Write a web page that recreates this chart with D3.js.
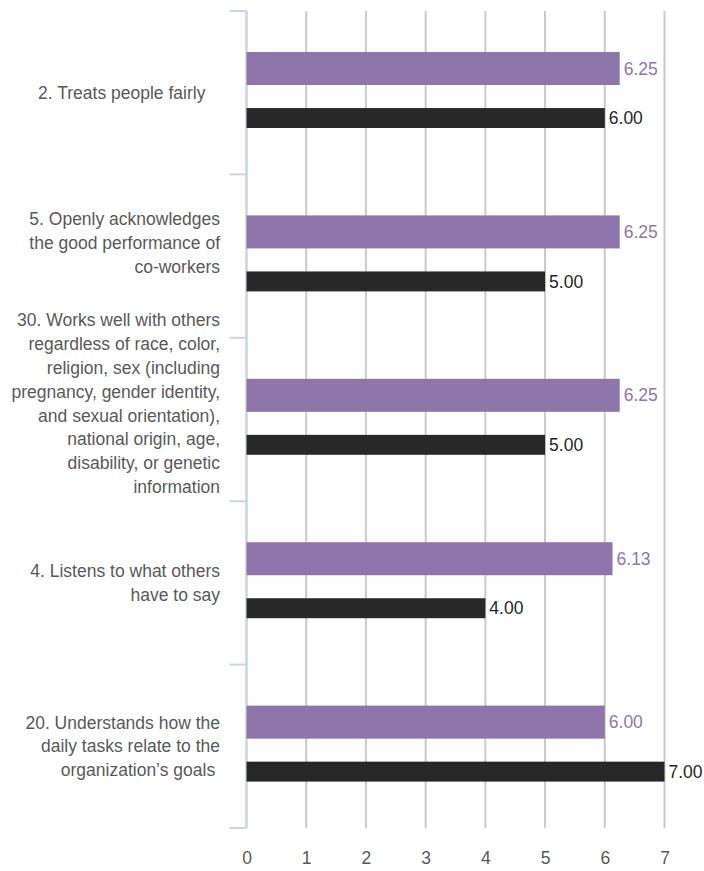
<!DOCTYPE html>
<html>
<head>
<meta charset="utf-8">
<script src="https://cdn.jsdelivr.net/npm/d3@7"></script>
<style>
  html, body { margin: 0; padding: 0; background: #ffffff; }
  svg { display: block; font-family: "Liberation Sans", Arial, sans-serif; }
</style>
</head>
<body>
<svg id="chart" width="704" height="871"></svg>
<script>
// Category labels, one entry per line of the wrapped label
const categories = [
  ["2. Treats people fairly   "],
  ["5. Openly acknowledges", "the good performance of", "co-workers"],
  ["30. Works well with others", "regardless of race, color,", "religion, sex (including",
   "pregnancy, gender identity,", "and sexual orientation),", "national origin, age,",
   "disability, or genetic", "information"],
  ["4. Listens to what others", "have to say"],
  ["20. Understands how the", "daily tasks relate to the", "organization\u2019s goals "]
];
const seriesA = [6.25, 6.25, 6.25, 6.13, 6.00];   // purple bars
const seriesB = [6.00, 5.00, 5.00, 4.00, 7.00];   // dark bars
const xTicks = [0, 1, 2, 3, 4, 5, 6, 7];

const colorA = "#8e76ab";
const colorB = "#282828";

// upward nudge of the longer wrapped labels (layout only)
const labelLift = [0, 13, 16, 0, 0];

const svg = d3.select("#chart");
const keys = categories.map((d, i) => i);

const x = d3.scaleLinear().domain([0, 7]).range([246.5, 664.5]);
const y = d3.scaleBand().domain(keys).range([11, 828]).padding(0);
const bw = y.bandwidth();

// vertical gridlines
svg.append("g").selectAll("line").data(xTicks).join("line")
  .attr("x1", d => x(d)).attr("x2", d => x(d))
  .attr("y1", y.range()[0]).attr("y2", y.range()[1])
  .attr("stroke", "#c9c9c9").attr("stroke-width", 2);

// bottom axis labels
const xAxis = svg.append("g")
  .attr("transform", `translate(0,${y.range()[1]})`)
  .call(d3.axisBottom(x).tickValues(xTicks).tickSize(0).tickPadding(24).tickFormat(d3.format("d")));
xAxis.select(".domain").remove();
xAxis.selectAll("text")
  .attr("fill", "#595959").attr("font-size", "17.5px")
  .attr("font-family", "Liberation Sans, Arial, sans-serif");

// left category axis with ticks on band boundaries
const bounds = keys.map(k => y(k)).concat([y.range()[1]]);
const axisG = svg.append("g");
axisG.append("line")
  .attr("x1", x(0)).attr("x2", x(0))
  .attr("y1", y.range()[0]).attr("y2", y.range()[1])
  .attr("stroke", "#c8d6e5").attr("stroke-width", 2);
axisG.selectAll("line.tick").data(bounds).join("line")
  .attr("class", "tick")
  .attr("x1", x(0) - 17).attr("x2", x(0))
  .attr("y1", d => d).attr("y2", d => d)
  .attr("stroke", "#c8d6e5").attr("stroke-width", 2);

// bars
const barsA = keys.map(k => ({ k, v: seriesA[k] }));
const barsB = keys.map(k => ({ k, v: seriesB[k] }));

svg.append("g").selectAll("rect").data(barsA).join("rect")
  .attr("x", x(0)).attr("y", d => y(d.k) + bw * 0.251)
  .attr("width", d => x(d.v) - x(0)).attr("height", bw * 0.202)
  .attr("fill", colorA);

svg.append("g").selectAll("rect").data(barsB).join("rect")
  .attr("x", x(0)).attr("y", d => y(d.k) + bw * 0.594)
  .attr("width", d => x(d.v) - x(0)).attr("height", bw * 0.122)
  .attr("fill", colorB);

// value labels
const fmt = d3.format(".2f");
svg.append("g").selectAll("text").data(barsA).join("text")
  .attr("x", d => x(d.v) + 4).attr("y", d => y(d.k) + bw * 0.352)
  .attr("dy", "0.35em").attr("font-size", "17.5px").attr("fill", colorA)
  .text(d => fmt(d.v));

svg.append("g").selectAll("text").data(barsB).join("text")
  .attr("x", d => x(d.v) + 4).attr("y", d => y(d.k) + bw * 0.655)
  .attr("dy", "0.35em").attr("font-size", "17.5px").attr("fill", "#262626")
  .text(d => fmt(d.v));

// category labels, right-aligned and centred on each band
const lineH = 23.8;
const labelG = svg.append("g");
categories.forEach((lines, k) => {
  const cy = y(k) + bw / 2 - labelLift[k];
  const t = labelG.append("text")
    .attr("text-anchor", "end")
    .attr("font-size", "17.5px")
    .attr("fill", "#595959")
    .style("white-space", "pre");
  lines.forEach((ln, i) => {
    t.append("tspan")
      .attr("x", 220)
      .attr("y", cy + (i - (lines.length - 1) / 2) * lineH)
      .attr("dy", "0.35em")
      .text(ln);
  });
});
</script>
</body>
</html>
